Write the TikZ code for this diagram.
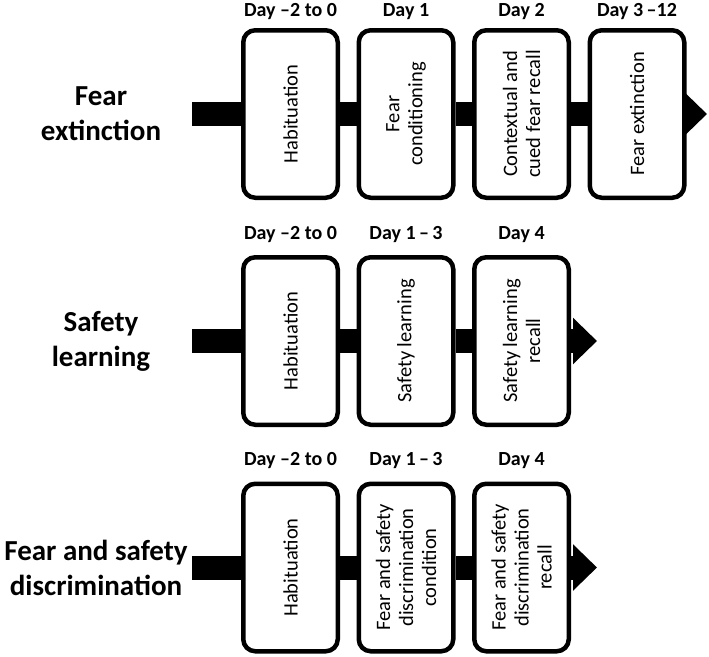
\documentclass[tikz,border=0pt]{standalone}
\usepackage{fontspec}
\setmainfont{Carlito}
\usetikzlibrary{positioning,arrows.meta}

\tikzset{
  stage/.style={draw=black,line width=4.5pt,rounded corners=12pt,fill=white,minimum width=94.5pt,minimum height=167.5pt,inner sep=0pt},
  stagetext/.style={rotate=90,align=center,font=\fontsize{20.5}{23}\selectfont},
  daytag/.style={font=\bfseries\fontsize{20}{22}\selectfont,anchor=base},
  rowtag/.style={font=\bfseries\fontsize{29}{35}\selectfont,align=center},
  bar/.style={line width=24pt,draw=black},
}

\begin{document}
\begin{tikzpicture}[x=1pt,y=-1pt]
		\useasboundingbox (0,0) rectangle (709,656);

		% fear extinction
		\node[rowtag] (fe) at (101,114) {Fear\\extinction};
		\node[stage,label={[stagetext]center:Habituation}] (hab1) at (290.5,114) {};
		\node[stage,right=16.5pt of hab1,label={[stagetext]center:Fear\\conditioning}] (cond1) {};
		\node[stage,right=16.5pt of cond1,label={[stagetext]center:Contextual and\\cued fear recall}] (recall1) {};
		\node[stage,right=16.5pt of recall1,label={[stagetext]center:Fear extinction}] (ext1) {};
		\node[daytag] (dh1) at ([yshift=12pt]hab1.north) {Day –2 to 0};
		\node[daytag] (dc1) at ([yshift=12pt]cond1.north) {Day 1};
		\node[daytag] (dr1) at ([yshift=12pt]recall1.north) {Day 2};
		\node[daytag] (de1) at ([yshift=12pt]ext1.north) {Day 3\,–12};
		\coordinate (s1) at (192,114);
		\coordinate (e1) at (707,114);
		\draw[bar] (s1)--(hab1.west);
		\draw[bar] (hab1.east)--(cond1.west);
		\draw[bar] (cond1.east)--(recall1.west);
		\draw[bar] (recall1.east)--(ext1.west);
		\draw[bar,-{Triangle[width=45pt,length=24pt]}] (ext1.east)--(e1);

		% safety learning
		\node[rowtag] (sl) at (101,341) {Safety\\learning};
		\node[stage,label={[stagetext]center:Habituation}] (hab2) at (290.5,341) {};
		\node[stage,right=16.5pt of hab2,label={[stagetext]center:Safety learning}] (safe2) {};
		\node[stage,right=16.5pt of safe2,label={[stagetext]center:Safety learning\\recall}] (srecall2) {};
		\node[daytag] (dh2) at ([yshift=16pt]hab2.north) {Day –2 to 0};
		\node[daytag] (ds2) at ([yshift=16pt]safe2.north) {Day 1\,–\,3};
		\node[daytag] (dr2) at ([yshift=16pt]srecall2.north) {Day 4};
		\coordinate (s2) at (192,341);
		\coordinate (e2) at (597,341);
		\draw[bar] (s2)--(hab2.west);
		\draw[bar] (hab2.east)--(safe2.west);
		\draw[bar] (safe2.east)--(srecall2.west);
		\draw[bar,-{Triangle[width=45pt,length=24pt]}] (srecall2.east)--(e2);

		% fear and safety discrimination
		\node[rowtag] (fsd) at (96,568) {Fear and safety\\discrimination};
		\node[stage,label={[stagetext]center:Habituation}] (hab3) at (290.5,567.5) {};
		\node[stage,right=16.5pt of hab3,label={[stagetext]center:Fear and safety\\discrimination\\condition}] (disc3) {};
		\node[stage,right=16.5pt of disc3,label={[stagetext]center:Fear and safety\\discrimination\\recall}] (drecall3) {};
		\node[daytag] (dh3) at ([yshift=16pt]hab3.north) {Day –2 to 0};
		\node[daytag] (dd3) at ([yshift=16pt]disc3.north) {Day 1\,–\,3};
		\node[daytag] (dr3) at ([yshift=16pt]drecall3.north) {Day 4};
		\coordinate (s3) at (192,567.5);
		\coordinate (e3) at (597,567.5);
		\draw[bar] (s3)--(hab3.west);
		\draw[bar] (hab3.east)--(disc3.west);
		\draw[bar] (disc3.east)--(drecall3.west);
		\draw[bar,-{Triangle[width=45pt,length=24pt]}] (drecall3.east)--(e3);
	\end{tikzpicture}
\end{document}
